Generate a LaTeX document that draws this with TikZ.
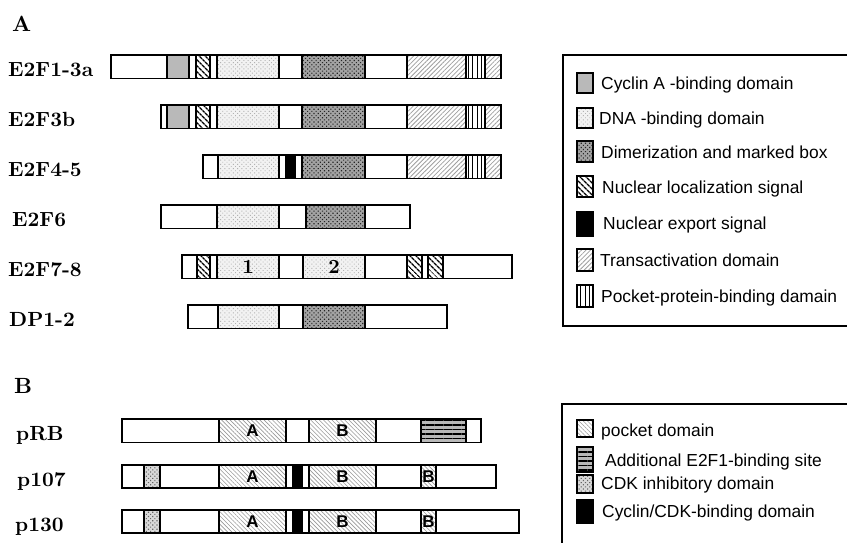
\documentclass[tikz,border=0pt]{standalone}
\usepackage{fontspec}
\newfontfamily\legfont{Liberation Sans}
\newfontfamily\labfont{lmroman10-bold}[Extension=.otf]
\usetikzlibrary{patterns,patterns.meta}
\tikzset{
  bord/.style={draw=black, line width=1.1pt},
  bar/.style={bord, fill=white},
  cyc/.style={bord, fill=gray!55},
  blk/.style={bord, fill=black},
  nls/.style={preaction={fill=white}, preaction={pattern={Lines[angle=-45,distance=4pt,line width=1.5pt]}, pattern color=black}, bord},
  trans/.style={preaction={fill=white}, preaction={pattern={Lines[angle=45,distance=3.2pt,line width=0.8pt]}, pattern color=gray!75}, bord},
  ppb/.style={preaction={fill=white}, preaction={pattern={Lines[angle=90,distance=4.5pt,line width=1pt]}, pattern color=black}, bord},
  dna/.style={preaction={fill=gray!10}, preaction={pattern={Dots[angle=45,distance=3pt,radius=0.65pt]}, pattern color=gray!60}, bord},
  dim/.style={preaction={fill=gray!72}, preaction={pattern={Dots[angle=45,distance=3pt,radius=0.8pt]}, pattern color=black!85}, bord},
  pock/.style={preaction={fill=white}, preaction={pattern={Lines[angle=-45,distance=3pt,line width=0.6pt]}, pattern color=gray!80}, bord},
  site/.style={preaction={fill=gray!55}, preaction={pattern={Lines[angle=0,distance=4.5pt,line width=1.3pt]}, pattern color=black}, bord},
  cdk/.style={preaction={fill=gray!30}, preaction={pattern={Dots[angle=45,distance=3pt,radius=0.8pt]}, pattern color=gray!80!black}, bord},
  lab/.style={anchor=base west, inner sep=0pt, font=\labfont\fontsize{20.5}{24}\selectfont},
  head/.style={anchor=base west, inner sep=0pt, font=\labfont\fontsize{22}{26}\selectfont},
  leg/.style={anchor=base west, inner sep=0pt, font=\legfont\fontsize{17.4}{20}\selectfont},
  inlab/.style={inner sep=0pt, font=\legfont\fontsize{17}{20}\selectfont\bfseries},
  innum/.style={inner sep=0pt, font=\labfont\fontsize{20}{22}\selectfont},
}
\newcommand\dseg[3]{\path[#1] (#2,\ra) rectangle (#3,\rb);}
\begin{document}
\begin{tikzpicture}[x=1pt,y=-1pt]
\useasboundingbox (0,0) rectangle (847,542);
\clip (0,0) rectangle (847,542);
\fill[white] (0,0) rectangle (847,542);

% ---------------- Part A ----------------
\node[head] (hA) at (12,31.5) {A};

% E2F1-3a
\def\ra{55}\def\rb{78.5}
\node[lab] (l1) at (8,76.5) {E2F1-3a};
\draw[bar] (111,\ra) rectangle (501,\rb);
\dseg{cyc}{167}{189}
\dseg{nls}{196}{210}
\dseg{dna}{217}{279}
\dseg{dim}{302}{365}
\dseg{trans}{407}{466}
\dseg{ppb}{466}{485}
\dseg{trans}{485}{501}

% E2F3b
\def\ra{105}\def\rb{128.5}
\node[lab] (l2) at (8,126.5) {E2F3b};
\draw[bar] (161,\ra) rectangle (501,\rb);
\dseg{cyc}{167}{189}
\dseg{nls}{196}{210}
\dseg{dna}{217}{279}
\dseg{dim}{302}{365}
\dseg{trans}{407}{466}
\dseg{ppb}{466}{485}
\dseg{trans}{485}{501}

% E2F4-5
\def\ra{155}\def\rb{178.5}
\node[lab] (l3) at (8,176.5) {E2F4-5};
\draw[bar] (203,\ra) rectangle (501,\rb);
\dseg{dna}{218}{279}
\dseg{blk}{286}{295}
\dseg{dim}{302}{365}
\dseg{trans}{407}{466}
\dseg{ppb}{466}{485}
\dseg{trans}{485}{501}

% E2F6
\def\ra{205}\def\rb{228.5}
\node[lab] (l4) at (12,226.5) {E2F6};
\draw[bar] (161,\ra) rectangle (410,\rb);
\dseg{dna}{217}{279}
\dseg{dim}{306}{365}

% E2F7-8
\def\ra{255}\def\rb{278.5}
\node[lab] (l5) at (8,276.5) {E2F7-8};
\draw[bar] (182,\ra) rectangle (512,\rb);
\dseg{nls}{197}{210}
\dseg{dna}{217}{279}
\dseg{dna}{303}{365}
\dseg{nls}{407}{422}
\dseg{nls}{428}{443}
\node[innum] (n1) at (248,266.75) {1};
\node[innum] (n2) at (334,266.75) {2};

% DP1-2
\def\ra{305}\def\rb{328.5}
\node[lab] (l6) at (9,326.5) {DP1-2};
\draw[bar] (188,\ra) rectangle (447,\rb);
\dseg{dna}{218}{279}
\dseg{dim}{303}{365}

% Legend A
\draw[line width=1.1pt] (563,55) rectangle (870,326);
\path[cyc]   (577,73)  rectangle (593,93);
\path[dna]   (577,108) rectangle (593,128);
\path[dim]   (577,141) rectangle (593,162);
\path[nls]   (577,176) rectangle (593,197);
\path[blk]   (577,212) rectangle (593,236);
\path[trans] (577,249) rectangle (593,271);
\path[ppb]   (577,285) rectangle (593,307);
\node[leg] (t1) at (601,89) {Cyclin A -binding domain};
\node[leg] (t2) at (599,124) {DNA -binding domain};
\node[leg] (t3) at (601,158) {Dimerization and marked box};
\node[leg] (t4) at (602,193) {Nuclear localization signal};
\node[leg] (t5) at (603,229) {Nuclear export signal};
\node[leg] (t6) at (600,266) {Transactivation domain};
\node[leg] (t7) at (601,302) {Pocket-protein-binding damain};

% ---------------- Part B ----------------
\node[head] (hB) at (14,393) {B};

% pRB
\def\ra{419}\def\rb{442.5}
\node[lab] (b1) at (16,440.5) {pRB};
\draw[bar] (122,\ra) rectangle (481,\rb);
\dseg{pock}{219}{286}
\dseg{pock}{309}{376}
\dseg{site}{421}{466}
\node[inlab] (a1) at (252.5,430.75) {A};
\node[inlab] (c1) at (342.5,430.75) {B};

% p107
\def\ra{465}\def\rb{488}
\node[lab] (b2) at (17,486) {p107};
\draw[bar] (122,\ra) rectangle (496,\rb);
\dseg{cdk}{144}{160}
\dseg{pock}{219}{286}
\dseg{blk}{293}{302}
\dseg{pock}{309}{376}
\dseg{pock}{421}{436}
\node[inlab] (a2) at (252.5,476.5) {A};
\node[inlab] (c2) at (342.5,476.5) {B};
\node[inlab] (d2) at (428.5,476.5) {B};

% p130
\def\ra{510}\def\rb{533}
\node[lab] (b3) at (15,531) {p130};
\draw[bar] (122,\ra) rectangle (519,\rb);
\dseg{cdk}{144}{160}
\dseg{pock}{219}{286}
\dseg{blk}{293}{302}
\dseg{pock}{309}{376}
\dseg{pock}{421}{436}
\node[inlab] (a3) at (252.5,521.5) {A};
\node[inlab] (c3) at (342.5,521.5) {B};
\node[inlab] (d3) at (428.5,521.5) {B};

% Legend B
\draw[line width=1.1pt] (562,404) rectangle (870,560);
\path[pock] (577,420) rectangle (593,437);
\path[site] (577,447) rectangle (593,472);
\path[cdk]  (577,475) rectangle (593,493);
\path[blk]  (577,500) rectangle (593,523);
\node[leg] (u1) at (601,436) {pocket domain};
\node[leg] (u2) at (605,466.5) {Additional E2F1-binding site};
\node[leg] (u3) at (601,489) {CDK inhibitory domain};
\node[leg] (u4) at (602,517.5) {Cyclin/CDK-binding domain};
\end{tikzpicture}
\end{document}
